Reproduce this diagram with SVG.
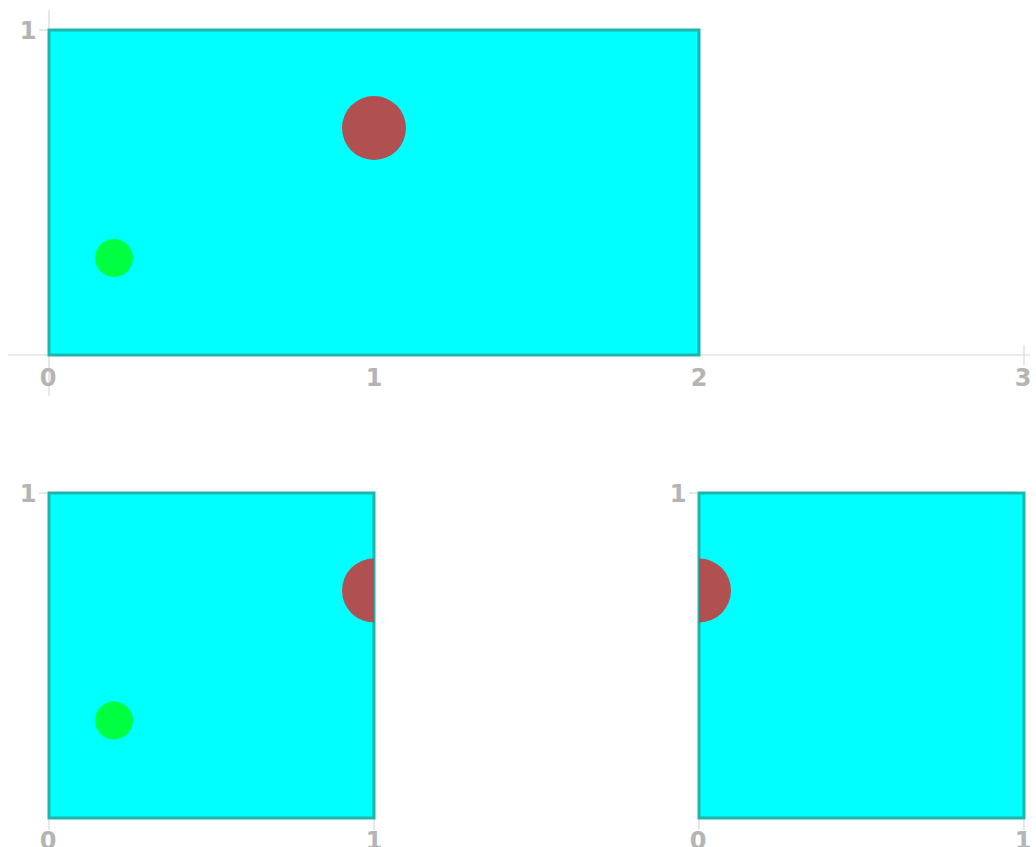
<svg xmlns="http://www.w3.org/2000/svg" width="1036" height="847" viewBox="0 0 1036 847">
<style>
.ax{stroke:#d8d8d8;stroke-width:1.2;fill:none}
.lbl{font-family:"DejaVu Sans",sans-serif;font-weight:bold;font-size:24px;fill:#b4b4b4;text-anchor:middle}
.box{fill:#00ffff;stroke:#1fb5ad;stroke-width:3}
.red{fill:#b05050}
.grn{fill:#00ff40}
</style>
<defs>
<clipPath id="c1"><rect x="49" y="493" width="325" height="325"/></clipPath>
<clipPath id="c2"><rect x="699" y="493" width="325" height="325"/></clipPath>
</defs>
<rect width="1036" height="847" fill="#fff"/>
<g id="top">
<g class="ax">
<line x1="8" y1="355" x2="1030" y2="355"/>
<line x1="49" y1="10" x2="49" y2="396"/>
<line x1="39" y1="30" x2="49" y2="30"/>
<line x1="1024" y1="345" x2="1024" y2="365"/>
</g>
<rect class="box" x="49" y="30" width="650" height="325"/>
<circle class="red" cx="374" cy="128" r="32"/>
<circle class="grn" cx="114" cy="258" r="19"/>
<text class="lbl" x="28" y="39">1</text>
<text class="lbl" x="48" y="386">0</text>
<text class="lbl" x="374" y="386">1</text>
<text class="lbl" x="699" y="386">2</text>
<text class="lbl" x="1023" y="386">3</text>
</g>
<g id="bottom-left">
<g class="ax">
<line x1="39" y1="493" x2="49" y2="493"/>
<line x1="49" y1="818" x2="49" y2="830"/>
<line x1="374" y1="818" x2="374" y2="830"/>
</g>
<rect class="box" x="49" y="493" width="325" height="325"/>
<g clip-path="url(#c1)">
<circle class="red" cx="374" cy="590.5" r="32"/>
</g>
<circle class="grn" cx="114" cy="720.5" r="19"/>
<text class="lbl" x="28" y="502">1</text>
<text class="lbl" x="48" y="849">0</text>
<text class="lbl" x="374" y="849">1</text>
</g>
<g id="bottom-right">
<g class="ax">
<line x1="689" y1="493" x2="699" y2="493"/>
<line x1="699" y1="818" x2="699" y2="830"/>
<line x1="1024" y1="818" x2="1024" y2="830"/>
</g>
<rect class="box" x="699" y="493" width="325" height="325"/>
<g clip-path="url(#c2)">
<circle class="red" cx="699" cy="590.5" r="32"/>
</g>
<text class="lbl" x="678" y="502">1</text>
<text class="lbl" x="698" y="849">0</text>
<text class="lbl" x="1023" y="849">1</text>
</g>
</svg>
